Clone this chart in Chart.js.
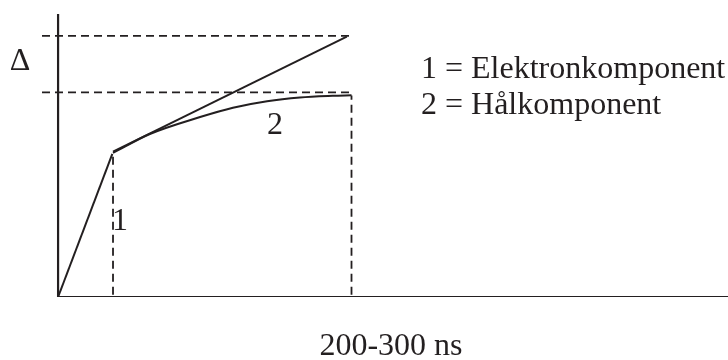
<!DOCTYPE html>
<html>
<head>
    <meta charset="UTF-8">
    <title>Elektron- och hålkomponent</title>
    <script src="https://cdn.jsdelivr.net/npm/chart.js"></script>
    <style>
        body { margin: 0; background: #fff; }
        #wrap { position: relative; width: 728px; height: 360px; }
        canvas { position: absolute; left: 0; top: 0; }
        .lbl {
            position: absolute;
            font-family: "Liberation Serif", "DejaVu Serif", serif;
            font-size: 32px;
            color: #231f20;
            white-space: nowrap;
            line-height: 1;
        }
        .c { transform: translate(-50%, -50%); }
        .l { transform: translate(0, -50%); }
    </style>
</head>
<body>
<div id="wrap">
    <canvas id="chart" width="728" height="360"></canvas>
    <span class="lbl c" style="left:20px; top:59px;">Δ</span>
    <span class="lbl l" style="left:421px; top:67px;">1 = Elektronkomponent</span>
    <span class="lbl l" style="left:421px; top:103px;">2 = Hålkomponent</span>
    <span class="lbl c" style="left:275px; top:123px;">2</span>
    <span class="lbl c" style="left:120px; top:219px;">1</span>
    <span class="lbl c" style="left:391px; top:344px;">200-300 ns</span>
</div>

<script>
    // Axlar (godtyckliga enheter, tiden åt höger)
    const axisX = [{x: 0, y: 0}, {x: 100, y: 0}];
    const axisY = [{x: 0, y: 0}, {x: 0, y: 100}];

    // Snabb stigning upp till knäet
    const rise = [{x: 0, y: 0}, {x: 8.1, y: 50.6}];

    // 1 = Elektronkomponent (rak linje)
    const elektron = [{x: 8.2, y: 51.4}, {x: 43.1, y: 92.0}];

    // 2 = Hålkomponent (avtagande kurva)
    const halX = [8.2, 13.7, 21.2, 26.1, 31.2, 36.1, 41.0, 43.8];
    const halY = [50.9, 57.6, 63.6, 66.9, 69.2, 70.5, 71.1, 71.3];

    // Streckade hjälplinjer
    const dashTop = [{x: -2.4, y: 92.3}, {x: 43.9, y: 92.3}];
    const dashMid = [{x: -2.4, y: 72.3}, {x: 43.9, y: 72.3}];
    const dashKnee = [{x: 8.2, y: 0.8}, {x: 8.2, y: 50.4}];
    const dashEnd = [{x: 43.8, y: 0.8}, {x: 43.8, y: 71.2}];

    const ink = '#231f20';

    function solid(data, w) {
        return {data: data, borderColor: ink, borderWidth: w, showLine: true,
                pointRadius: 0, fill: false, tension: 0};
    }
    function dashed(data) {
        return {data: data, borderColor: ink, borderWidth: 1.8, borderDash: [8, 5],
                showLine: true, pointRadius: 0, fill: false, tension: 0};
    }

    const hal = solid(halX.map((x, i) => ({x: x, y: halY[i]})), 2);
    hal.cubicInterpolationMode = 'monotone';

    const ctx = document.getElementById('chart').getContext('2d');
    new Chart(ctx, {
        type: 'scatter',
        data: {
            datasets: [
                dashed(dashTop), dashed(dashMid), dashed(dashKnee), dashed(dashEnd),
                solid(axisX, 2.2), solid(axisY, 2.2),
                solid(rise, 2), solid(elektron, 2), hal
            ]
        },
        options: {
            responsive: false,
            animation: false,
            layout: { padding: {left: 42, right: 0, top: 14, bottom: 63} },
            plugins: { legend: {display: false}, tooltip: {enabled: false} },
            scales: {
                x: { type: 'linear', min: -2.4, max: 100, display: false },
                y: { type: 'linear', min: 0, max: 100, display: false }
            }
        }
    });
</script>
</body>
</html>
